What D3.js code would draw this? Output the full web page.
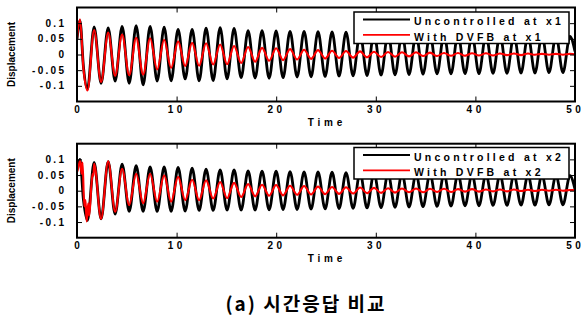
<!DOCTYPE html>
<html>
<head>
<meta charset="utf-8">
<script src="https://cdn.jsdelivr.net/npm/d3@7"></script>
<style>
  body { margin: 0; background: #fff; }
  svg { display: block; }
</style>
</head>
<body>
<svg id="chart" width="581" height="320"></svg>
<script>
// times of the peaks / troughs (shared by all four curves)
const swingTimes = [
  1.72, 2.42, 3.13, 3.83, 4.53, 5.24, 5.94, 6.64, 7.34, 8.05,
  8.75, 9.45, 10.15, 10.86, 11.56, 12.26, 12.96, 13.67, 14.37, 15.07,
  15.77, 16.48, 17.18, 17.88, 18.58, 19.29, 19.99, 20.69, 21.39, 22.1,
  22.8, 23.5, 24.2, 24.91, 25.61, 26.31, 27.01, 27.72, 28.42, 29.12,
  29.82, 30.53, 31.23, 31.93, 32.63, 33.34, 34.04, 34.74, 35.44, 36.15,
  36.85, 37.55, 38.25, 38.96, 39.66, 40.36, 41.06, 41.77, 42.47, 43.17,
  43.87, 44.58, 45.28, 45.98, 46.68, 47.39, 48.09, 48.79,
  49.49, 50
];
const x1Uncontrolled = [
  0.088, -0.092, 0.085, -0.085, 0.09, -0.092, 0.092, -0.097, 0.09, -0.085,
  0.087, -0.084, 0.08, -0.078, 0.08, -0.084, 0.084, -0.083, 0.086, -0.078,
  0.083, -0.074, 0.076, -0.075, 0.076, -0.076, 0.075, -0.074, 0.074, -0.072,
  0.074, -0.071, 0.073, -0.07, 0.072, -0.069, 0.071, -0.068, 0.07, -0.067,
  0.07, -0.066, 0.069, -0.065, 0.068, -0.064, 0.067, -0.063, 0.067, -0.062,
  0.066, -0.062, 0.066, -0.061, 0.065, -0.061, 0.065, -0.06, 0.064, -0.06,
  0.064, -0.059, 0.063, -0.059, 0.063, -0.058, 0.062, -0.058,
  0.058, 0.01
];
const x1Dvfb = [
  0.078, -0.088, 0.07, -0.068, 0.064, -0.066, 0.053, -0.064, 0.052, -0.048,
  0.047, -0.043, 0.042, -0.037, 0.037, -0.036, 0.036, -0.032, 0.032, -0.031,
  0.027, -0.027, 0.024, -0.023, 0.021, -0.02, 0.02, -0.018, 0.017, -0.016,
  0.015, -0.014, 0.014, -0.013, 0.012, -0.011, 0.011, -0.01, 0.01, -0.009,
  0.009, -0.008, 0.008, -0.007, 0.007, -0.006, 0.007, -0.005, 0.006, -0.005,
  0.005, -0.004, 0.005, -0.004, 0.004, -0.003, 0.004, -0.003, 0.003, -0.002,
  0.003, -0.002, 0.003, -0.001, 0.002, -0.001, 0.002, -0.001,
  0.002, 0.001
];
const x2Uncontrolled = [
  0.09, -0.09, 0.093, -0.075, 0.085, -0.066, 0.08, -0.066, 0.076, -0.066,
  0.076, -0.066, 0.074, -0.065, 0.072, -0.063, 0.069, -0.063, 0.066, -0.062,
  0.066, -0.062, 0.063, -0.062, 0.062, -0.061, 0.062, -0.06, 0.061, -0.06,
  0.06, -0.059, 0.06, -0.058, 0.059, -0.057, 0.058, -0.056, 0.058, -0.055,
  0.057, -0.054, 0.056, -0.053, 0.056, -0.052, 0.055, -0.051, 0.055, -0.05,
  0.054, -0.049, 0.054, -0.048, 0.053, -0.048, 0.053, -0.047, 0.052, -0.047,
  0.052, -0.046, 0.051, -0.046, 0.051, -0.045, 0.05, -0.045,
  0.048, 0.005
];
const x2Dvfb = [
  0.086, -0.09, 0.094, -0.067, 0.07, -0.046, 0.054, -0.04, 0.054, -0.035,
  0.049, -0.035, 0.044, -0.03, 0.035, -0.03, 0.033, -0.025, 0.028, -0.024,
  0.025, -0.02, 0.021, -0.018, 0.019, -0.016, 0.018, -0.015, 0.016, -0.013,
  0.015, -0.012, 0.013, -0.011, 0.012, -0.01, 0.011, -0.009, 0.01, -0.008,
  0.009, -0.007, 0.008, -0.006, 0.007, -0.005, 0.007, -0.005, 0.006, -0.004,
  0.006, -0.004, 0.005, -0.003, 0.005, -0.003, 0.004, -0.002, 0.004, -0.002,
  0.004, -0.001, 0.003, -0.001, 0.003, 0, 0.003, 0,
  0.002, 0.002
];

// first second (before the regular swing starts)
const startTimes = [0, 0.3, 0.65, 1.05];
const x1UncontrolledStart = [0.05, 0.108, -0.04, -0.11];
const x1DvfbStart = [0.05, 0.112, -0.045, -0.115];
const x2UncontrolledStart = [0.07, 0.1, -0.03, -0.095];
const x2DvfbStartTimes = [0, 0.06, 0.33, 0.46, 0.56, 0.73, 0.85, 0.97, 1.13, 1.23, 1.45, 1.57, 1.65];
const x2DvfbStart = [0.06, 0.065, 0.096, 0.054, 0.09, -0.05, -0.03, -0.098, -0.04, -0.08, 0.02, 0.054, 0.048];

const xTicks = [0, 10, 20, 30, 40, 50];
const yTicks = [-0.1, -0.05, 0, 0.05, 0.1];
const yTickLabels = ["-0.1", "-0.05", "0", "0.05", "0.1"];
const legend1 = ["Uncontrolled at x1", "With DVFB at x1"];
const legend2 = ["Uncontrolled at x2", "With DVFB at x2"];
const caption = "(a) 시간응답 비교";

function joinSeries(t0, v0, t1, v1) {
  var out = t0.map(function(t, i) { return [t, v0[i]]; });
  return out.concat(t1.map(function(t, i) { return [t, v1[i]]; }));
}

// spaced-out text, but no spacing after the last letter so anchors stay true
function spacedText(sel, str, gap) {
  var s = String(str);
  sel.append("tspan").style("letter-spacing", gap + "px").text(s.slice(0, -1));
  sel.append("tspan").text(s.slice(-1));
}

var svg = d3.select("#chart");
var boldFont = "'Liberation Sans', Arial, sans-serif";

function drawPanel(id, top, bottom, black, red, labels, legendTop) {
  var x = d3.scaleLinear().domain([0, 50]).range([77, 575]);
  var y = d3.scaleLinear().domain([-0.15, 0.15]).range([bottom, top]);

  var g = svg.append("g");

  g.append("clipPath").attr("id", "clip" + id)
    .append("rect")
    .attr("x", x(0)).attr("y", top)
    .attr("width", x(50) - x(0)).attr("height", bottom - top);

  var line = d3.line()
    .x(function(d) { return x(d[0]); })
    .y(function(d) { return y(d[1]); })
    .curve(d3.curveMonotoneX);

  g.append("path").datum(black)
    .attr("clip-path", "url(#clip" + id + ")")
    .attr("d", line)
    .style("fill", "none").style("stroke", "#000").style("stroke-width", 2.8)
    .style("stroke-linejoin", "round");
  g.append("path").datum(red)
    .attr("clip-path", "url(#clip" + id + ")")
    .attr("d", line)
    .style("fill", "none").style("stroke", "#ff0000").style("stroke-width", 2.1)
    .style("stroke-linejoin", "round");

  // inward ticks on all four sides, no labels from the axis itself
  g.append("g").attr("transform", "translate(0," + bottom + ")")
    .call(d3.axisBottom(x).tickValues(xTicks).tickSize(-5).tickFormat(""));
  g.append("g").attr("transform", "translate(0," + top + ")")
    .call(d3.axisTop(x).tickValues(xTicks).tickSize(-5).tickFormat(""));
  g.append("g").attr("transform", "translate(" + x(0) + ",0)")
    .call(d3.axisLeft(y).tickValues(yTicks).tickSize(-5).tickFormat(""));
  g.append("g").attr("transform", "translate(" + x(50) + ",0)")
    .call(d3.axisRight(y).tickValues(yTicks).tickSize(-5).tickFormat(""));
  g.selectAll(".domain").remove();
  g.selectAll(".tick line").style("stroke", "#000").style("stroke-width", 1);

  g.append("rect")
    .attr("x", x(0)).attr("y", top)
    .attr("width", x(50) - x(0)).attr("height", bottom - top)
    .style("fill", "none").style("stroke", "#000").style("stroke-width", 2);

  // tick labels
  g.selectAll(".xl").data(xTicks).enter().append("text")
    .attr("x", function(d) { return d === 0 ? x(d) : x(d) - 1.5; })
    .attr("y", bottom + 11.5)
    .attr("text-anchor", "middle")
    .style("font-family", boldFont).style("font-weight", "bold")
    .style("font-size", "10px")
    .each(function(d) { spacedText(d3.select(this), d, 3.5); });

  g.selectAll(".yl").data(yTicks).enter().append("text")
    .attr("x", 64)
    .attr("y", function(d) { return y(d) + 3.5; })
    .attr("text-anchor", "end")
    .style("font-family", boldFont).style("font-weight", "bold")
    .style("font-size", "10px")
    .each(function(d, i) { spacedText(d3.select(this), yTickLabels[i], 2.3); });

  g.append("text")
    .attr("x", (x(0) + x(50)) / 2 - 1)
    .attr("y", bottom + 24.5)
    .attr("text-anchor", "middle")
    .style("font-family", boldFont).style("font-weight", "bold")
    .style("font-size", "10px")
    .each(function() { spacedText(d3.select(this), "Time", 3.8); });

  g.append("text")
    .attr("transform", "translate(15," + (top + bottom) / 2 + ") rotate(-90)")
    .attr("text-anchor", "middle")
    .style("font-family", boldFont).style("font-weight", "bold")
    .style("font-size", "10px")
    .text("Displacement");

  // legend
  var lg = g.append("g").attr("transform", "translate(354," + legendTop + ")");
  lg.append("rect")
    .attr("width", 215).attr("height", 31.5)
    .style("fill", "#fff").style("stroke", "#000").style("stroke-width", 1.5);
  var colors = ["#000", "#ff0000"];
  labels.forEach(function(label, i) {
    var ly = 7.5 + i * 15.3;
    lg.append("line")
      .attr("x1", 9).attr("x2", 56).attr("y1", ly).attr("y2", ly)
      .style("stroke", colors[i]).style("stroke-width", 1.8);
    lg.append("text")
      .attr("x", 60).attr("y", ly + 5.8)
      .style("font-family", boldFont).style("font-weight", "bold")
      .style("font-size", "10.5px").style("letter-spacing", "3.25px")
      .text(label);
  });
}

drawPanel(1, 7.5, 101.5,
  joinSeries(startTimes, x1UncontrolledStart, swingTimes, x1Uncontrolled),
  joinSeries(startTimes, x1DvfbStart, swingTimes, x1Dvfb),
  legend1, 12);

drawPanel(2, 143.7, 237.7,
  joinSeries(startTimes, x2UncontrolledStart, swingTimes, x2Uncontrolled),
  joinSeries(x2DvfbStartTimes, x2DvfbStart, swingTimes, x2Dvfb),
  legend2, 147.5);

svg.append("text")
  .attr("x", 305).attr("y", 311)
  .attr("text-anchor", "middle")
  .style("font-family", "'Noto Sans CJK KR', sans-serif")
  .style("font-weight", "bold")
  .style("font-size", "19px")
  .each(function() { spacedText(d3.select(this), caption, 2); });
</script>
</body>
</html>
